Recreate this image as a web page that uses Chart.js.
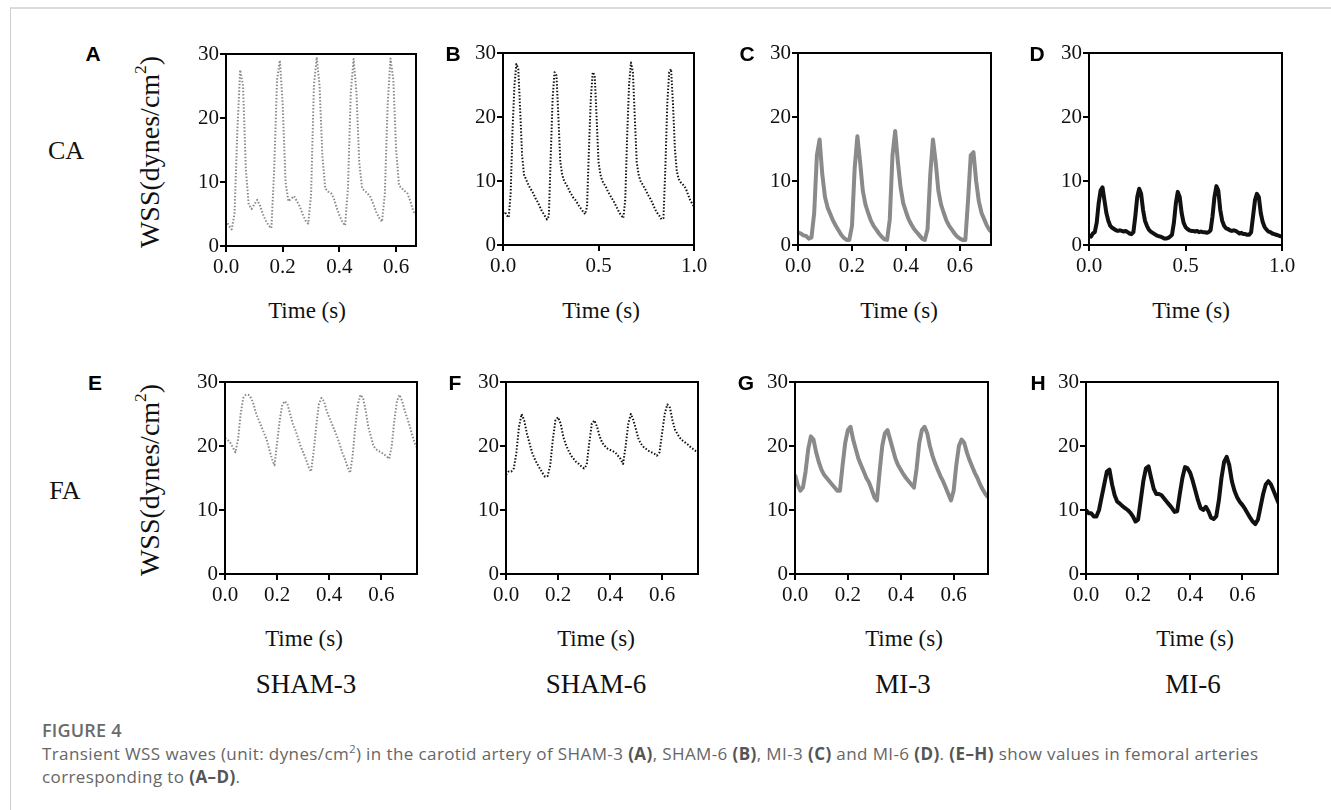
<!DOCTYPE html>
<html>
<head>
<meta charset="utf-8">
<script src="https://cdn.jsdelivr.net/npm/chart.js@4"></script>
<style>
  html, body { margin: 0; padding: 0; background: #fff; }
  #fig { position: relative; width: 1331px; height: 810px; overflow: hidden; background: #fff; }
  #frame { position: absolute; left: 10px; top: 7px; right: 0; bottom: 0; border-top: 2px solid #dcdcdc; border-left: 1px solid #cfcfcf; }
  .lbl { position: absolute; transform: translate(-50%, -50%); white-space: nowrap; line-height: 1; color: #111; }
  .serif { font-family: "Liberation Serif", "Times New Roman", serif; }
  .letter { font-family: "Liberation Sans", Arial, sans-serif; font-weight: bold; font-size: 21px; color: #000; }
  .ytitle { position: absolute; transform: translate(-50%, -50%) rotate(-90deg); white-space: nowrap; line-height: 1; font-size: 28px; color: #111; }
  .ytitle sup { font-size: 0.62em; vertical-align: 0.75em; line-height: 0; }
  #caption { position: absolute; left: 42px; top: 719px; font-family: "Open Sans", "Noto Sans", sans-serif; font-size: 17px; color: #666; line-height: 23px; white-space: nowrap; }
  #caption .head { font-weight: 600; font-size: 18px; color: #6a6a6a; letter-spacing: 0.2px; }
  #caption b { font-weight: 700; color: #555; }
  #caption sup { font-size: 0.65em; line-height: 0; }
  canvas { position: absolute; }
</style>
</head>
<body>
<div id="fig">
  <div id="frame"></div>
  <div id="caption">
    <div class="head">FIGURE 4</div>
    <div class="line"><span id="cap1">Transient WSS waves (unit: dynes/cm<sup>2</sup>) in the carotid artery of SHAM-3 <b>(A)</b>, SHAM-6 <b>(B)</b>, MI-3 <b>(C)</b> and MI-6 <b>(D)</b>. <b>(E–H)</b> show values in femoral arteries</span></div>
    <div class="line">corresponding to <b>(A–D)</b>.</div>
  </div>
</div>
<script>
// sampling interval of every trace (s)
const DT = 0.01;

// WSS (dynes/cm2), one value per DT
const wssA = [4.0, 3.2, 2.6, 5, 18, 27.5, 25, 12, 6.5, 5.8, 6.5, 7.2, 6.3, 5.0, 4.0, 3.2, 2.8, 12, 26, 29,
  22, 10, 7.0, 7.4, 7.8, 7.0, 6.2, 5.0, 4.0, 3.5, 8, 25, 29.5, 25, 14, 9, 8.5, 8.3, 7.5, 6.0,
  4.8, 3.8, 3.2, 9, 24, 29.2, 24, 13, 9, 8.6, 8.2, 7.6, 6.5, 5.3, 4.4, 3.8, 8, 22, 29.3, 26,
  15, 9.5, 9, 8.6, 8.2, 7.0, 5.5, 4.8];

const wssB = [5.0, 5.2, 4.6, 4.3, 8, 18, 25, 28.3, 27.5, 21, 14, 11, 10.3, 9.6, 9.0, 8.5, 8.0, 7.3, 6.8, 6.2,
  5.5, 5.0, 4.5, 4.0, 4.5, 14, 23, 27, 26.5, 20, 13, 11, 10, 9.5, 9.0, 8.3, 7.8, 7.3, 7.0, 6.5,
  6.0, 5.6, 5.2, 4.8, 6, 15, 23, 27, 26.5, 20, 13, 11, 10, 9.5, 9.0, 8.3, 7.8, 7.3, 6.8, 6.2,
  5.6, 5.0, 4.6, 4.2, 7, 17, 25, 28.5, 27, 20, 13, 11, 10, 9.5, 9.0, 8.4, 7.8, 7.3, 6.7, 6.0,
  5.4, 4.9, 4.5, 4.0, 4.2, 12, 22, 27, 27.5, 22, 15, 11.5, 10.3, 9.8, 9.5, 9.2, 8.6, 7.8, 7.0, 6.5,
  6.0];

const wssC = [2.0, 1.8, 1.5, 1.4, 1.0, 1.2, 5, 14, 16.5, 11, 7.5, 5.8, 4.8, 3.8, 3.0, 2.3, 1.6, 1.1, 0.8, 0.8,
  3, 12, 17, 13, 8.5, 6.3, 5, 3.8, 3.0, 2.4, 1.8, 1.3, 0.9, 0.8, 4, 14, 17.8, 13, 9, 6.5,
  5.2, 4.0, 3.2, 2.5, 2.0, 1.5, 1.0, 0.8, 2.5, 11, 16.5, 13, 8.5, 6.3, 5, 3.8, 3.0, 2.4, 1.8, 1.3,
  1.0, 0.8, 0.8, 7, 14, 14.5, 10, 6.8, 5.0, 4.0, 3.0, 2.3, 2.0];

const wssD = [1.5, 1.3, 1.8, 2.0, 3.5, 6.5, 8.5, 9.0, 7.0, 5.0, 3.8, 3.0, 2.7, 2.5, 2.3, 2.2, 2.3, 2.2, 2.1, 2.2,
  2.0, 1.8, 1.7, 2.0, 4.5, 7.5, 8.8, 8.0, 5.5, 3.8, 3.0, 2.4, 2.1, 1.9, 1.7, 1.5, 1.4, 1.3, 1.2, 1.0,
  1.0, 1.1, 1.3, 1.6, 3.5, 6.5, 8.3, 7.5, 5.0, 3.5, 2.8, 2.5, 2.3, 2.2, 2.2, 2.1, 2.2, 2.0, 2.1, 2.0,
  2.0, 1.9, 2.0, 2.3, 4.5, 7.5, 9.2, 8.5, 5.5, 3.8, 3.0, 2.6, 2.5, 2.3, 2.2, 2.3, 2.2, 2.0, 1.8, 1.9,
  1.7, 1.7, 1.6, 1.6, 2.0, 4.5, 7.0, 8.0, 7.5, 5.0, 3.6, 2.8, 2.4, 2.1, 2.0, 1.8, 1.7, 1.6, 1.5, 1.4,
  1.3];

const wssE = [21.2, 21.0, 20.5, 19.8, 19.0, 21, 25, 27.5, 28, 28, 27.5, 26.5, 25, 24, 23, 22, 21, 19.5, 18, 17,
  20.5, 24, 26.5, 27, 26.5, 25, 23.5, 22.5, 21.3, 20, 19, 18, 16.8, 16, 19, 23, 26.5, 27.5, 27, 25.5,
  24.5, 23.5, 22.5, 21.5, 20.3, 19, 18, 16.8, 15.8, 18.5, 23, 26.5, 28, 27.5, 25.5, 23, 21.5, 20, 19.5, 19.2,
  19, 18.7, 18.4, 18, 20, 24, 27, 28, 27, 25.5, 24.3, 23, 21.5, 20.3, 19.5];

const wssF = [15.5, 16, 16, 16.5, 19, 23, 25, 24, 22, 20.5, 19, 18, 17.2, 16.5, 15.8, 15.2, 15.3, 17, 21, 24,
  24.5, 23.5, 21.5, 20.2, 19.3, 18.5, 18, 17.5, 17.2, 16.8, 16.5, 17, 20.5, 23.5, 24, 23, 21.5, 20.5, 20, 19.6,
  19.4, 19.2, 19, 18.5, 18, 17.2, 20, 23.5, 25, 24, 22.5, 21, 20.3, 19.8, 19.5, 19.2, 19, 18.8, 18.5, 19,
  22, 25, 26.5, 26, 24, 22.5, 21.8, 21.2, 20.8, 20.5, 20.2, 19.8, 19.5, 19.2, 19];

const wssG = [15.5, 14, 13, 13.5, 16, 19.5, 21.5, 21, 19, 17.5, 16.3, 15.5, 15, 14.5, 14, 13.5, 13, 13, 17, 20.5,
  22.5, 23, 21, 19.5, 18, 17, 16, 15, 14.3, 13.2, 12, 11.5, 16, 20, 22, 22.5, 21, 19.5, 18, 17,
  16.3, 15.6, 15, 14.5, 14, 13.5, 16.5, 20.5, 22.5, 23, 22, 20, 18.5, 17.3, 16.3, 15.3, 14.5, 13.5, 12.5, 11.5,
  13, 17, 20, 21, 20.5, 19, 17.8, 16.8, 15.8, 15, 14, 13.2, 12.5, 12];

const wssH = [10, 9.5, 9.5, 9.0, 9.0, 10, 12, 14, 16, 16.3, 14, 12.3, 11.3, 11, 10.6, 10.3, 10, 9.6, 9, 8.2,
  8.5, 11.5, 14.5, 16.5, 16.8, 15, 13.3, 12.5, 12.5, 12.3, 11.8, 11.3, 10.8, 10.3, 9.7, 9.8, 12.5, 15, 16.7, 16.5,
  15.8, 14.5, 13, 11.5, 10.3, 10, 10.5, 9.8, 8.8, 8.6, 9, 11.5, 15, 17.5, 18.3, 17, 14.5, 13, 12, 11.3,
  10.8, 10.2, 9.5, 8.8, 8.2, 7.8, 8.5, 10.5, 12.5, 14, 14.5, 14, 13, 12, 11];

// time axis end (s) and tick step of each panel
const xMaxes = { A: 0.67, B: 1.0, C: 0.715, D: 1.0, E: 0.737, F: 0.738, G: 0.73, H: 0.737 };
const xSteps = { A: 0.2, B: 0.5, C: 0.2, D: 0.5, E: 0.2, F: 0.2, G: 0.2, H: 0.2 };
const yTicks = [0, 10, 20, 30];

const GREY = "#8a8a8a";
const BLACK = "#111";

// plot-area boxes on the page: left, top, width, height
const panels = [
  { id: "A", values: wssA, color: GREY, dotted: true, box: [226, 54, 190, 192] },
  { id: "B", values: wssB, color: BLACK, dotted: true, box: [503, 53, 191, 192] },
  { id: "C", values: wssC, color: GREY, dotted: false, box: [798, 53, 193, 192] },
  { id: "D", values: wssD, color: BLACK, dotted: false, box: [1089, 53, 193, 192] },
  { id: "E", values: wssE, color: GREY, dotted: true, box: [225, 382, 192, 192] },
  { id: "F", values: wssF, color: BLACK, dotted: true, box: [506, 382, 192, 192] },
  { id: "G", values: wssG, color: GREY, dotted: false, box: [795, 382, 193, 192] },
  { id: "H", values: wssH, color: BLACK, dotted: false, box: [1086, 382, 192, 192] }
];

const Y_W = 60, PAD_T = 14, PAD_R = 24, X_H = 44;
const serif = "'Liberation Serif', 'Times New Roman', serif";

// draw the closed frame round the plot area
const frameBox = {
  id: "frameBox",
  afterDraw(chart) {
    const { ctx, chartArea: a } = chart;
    ctx.save();
    ctx.strokeStyle = "#000";
    ctx.lineWidth = 2;
    ctx.strokeRect(a.left, a.top, a.right - a.left, a.bottom - a.top);
    ctx.restore();
  }
};

const fig = document.getElementById("fig");

panels.forEach(p => {
  const [L, T, W, H] = p.box;
  const canvas = document.createElement("canvas");
  canvas.width = W + Y_W + PAD_R;
  canvas.height = H + PAD_T + X_H;
  canvas.style.left = (L - Y_W) + "px";
  canvas.style.top = (T - PAD_T) + "px";
  fig.appendChild(canvas);

  const points = p.values.map((v, i) => ({ x: +(i * DT).toFixed(2), y: v }));

  new Chart(canvas.getContext("2d"), {
    type: "line",
    data: {
      datasets: [{
        data: points,
        borderColor: p.color,
        borderWidth: p.dotted ? 2 : 4,
        borderDash: p.dotted ? [1.5, 1.8] : [],
        borderJoinStyle: "round",
        pointRadius: 0,
        tension: 0,
        fill: false
      }]
    },
    options: {
      responsive: false,
      animation: false,
      devicePixelRatio: 1,
      layout: { padding: { left: 0, top: PAD_T, right: PAD_R, bottom: 0 } },
      plugins: { legend: { display: false }, tooltip: { enabled: false } },
      scales: {
        x: {
          type: "linear",
          min: 0,
          max: xMaxes[p.id],
          afterFit: s => { s.height = X_H; },
          border: { display: true, color: "#000", width: 2 },
          grid: { display: true, drawOnChartArea: false, drawTicks: true, tickLength: 6, color: "#000", lineWidth: 2 },
          ticks: {
            stepSize: xSteps[p.id],
            includeBounds: false,
            maxRotation: 0,
            autoSkip: false,
            padding: 3,
            color: "#111",
            font: { family: serif, size: 21 },
            callback: v => Number(v).toFixed(1)
          }
        },
        y: {
          min: 0,
          max: 30,
          afterFit: s => { s.width = Y_W; },
          afterBuildTicks: s => { s.ticks = yTicks.map(v => ({ value: v })); },
          border: { display: true, color: "#000", width: 2 },
          grid: { display: true, drawOnChartArea: false, drawTicks: true, tickLength: 6, color: "#000", lineWidth: 2 },
          ticks: {
            padding: 1,
            color: "#111",
            font: { family: serif, size: 21 }
          }
        }
      }
    },
    plugins: [frameBox]
  });
});

// text around the panels
function addLabel(html, x, y, cls, size) {
  const d = document.createElement("div");
  d.className = cls;
  d.innerHTML = html;
  d.style.left = x + "px";
  d.style.top = y + "px";
  if (size) d.style.fontSize = size + "px";
  fig.appendChild(d);
  return d;
}

const letterPos = { A: [93, 53], B: [453, 53], C: [747, 53], D: [1037, 53], E: [95, 382], F: [455, 382], G: [746, 382], H: [1038, 382] };
Object.keys(letterPos).forEach(k => addLabel(k, letterPos[k][0], letterPos[k][1], "lbl letter"));

const rowNames = ["CA", "FA"];
addLabel(rowNames[0], 66, 151, "lbl serif", 26);
addLabel(rowNames[1], 65, 491, "lbl serif", 26);

addLabel("WSS(dynes/cm<sup>2</sup>)", 150, 152, "ytitle serif");
addLabel("WSS(dynes/cm<sup>2</sup>)", 150, 480, "ytitle serif");

const timeX = [307, 601, 899, 1191];
const timeX2 = [304, 596, 904, 1195];
timeX.forEach(x => addLabel("Time (s)", x, 310, "lbl serif", 23));
timeX2.forEach(x => addLabel("Time (s)", x, 638, "lbl serif", 23));

const groups = ["SHAM-3", "SHAM-6", "MI-3", "MI-6"];
const groupX = [306, 596, 903, 1193];
groups.forEach((g, i) => addLabel(g, groupX[i], 684, "lbl serif", 27));

// stretch the caption so its first line spans the same width as in the figure
const cap1 = document.getElementById("cap1");
const capWidth = 1216;
const spacing = (capWidth - cap1.getBoundingClientRect().width) / cap1.textContent.length;
document.querySelectorAll("#caption .line").forEach(el => { el.style.letterSpacing = spacing.toFixed(2) + "px"; });
</script>
</body>
</html>
